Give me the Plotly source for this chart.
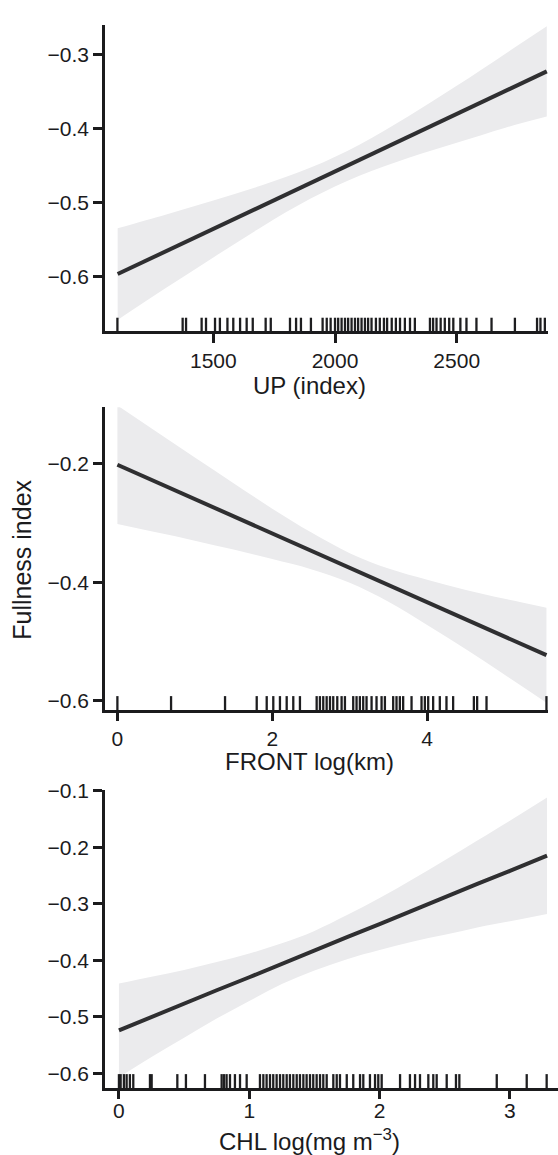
import plotly.graph_objects as go

W, H = 558, 1155
FONT = "Liberation Sans, Arial, Helvetica, sans-serif"
LINE_C = "#2f2f31"
BAND_C = "#ebebed"
AX_C = "#1b1b1d"

# ---------------- Panel 1: UP (index) ----------------
up_x = [1107, 1300, 1500, 1700, 1900, 2100, 2300, 2500, 2700, 2870]
up_fit = [-0.597, -0.567, -0.536, -0.505, -0.474, -0.443, -0.412, -0.381, -0.349, -0.323]
up_hi = [-0.535, -0.517, -0.4975, -0.477, -0.453, -0.422, -0.384, -0.3425, -0.299, -0.262]
up_lo = [-0.659, -0.617, -0.5745, -0.533, -0.495, -0.464, -0.440, -0.4195, -0.399, -0.384]
up_rug = [1106, 1374, 1388, 1452, 1470, 1507, 1527, 1558, 1582, 1610, 1637, 1662,
          1715, 1736, 1815, 1840, 1860, 1901, 1949, 1966, 1982, 2000, 2013, 2027,
          2041, 2054, 2068, 2082, 2095, 2109, 2123, 2136, 2150, 2168, 2184, 2201,
          2214, 2233, 2250, 2267, 2287, 2308, 2328, 2390, 2403, 2417, 2434, 2451,
          2469, 2486, 2515, 2540, 2581, 2643, 2739, 2830, 2844, 2862]
up_xticks = [1500, 2000, 2500]
up_yticks = [-0.6, -0.5, -0.4, -0.3]

# ---------------- Panel 2: FRONT log(km) ----------------
fr_x = [0, 0.5, 1, 1.5, 2, 2.5, 3, 3.5, 4, 4.5, 5, 5.54]
fr_fit = [-0.202, -0.231, -0.260, -0.289, -0.318, -0.347, -0.376, -0.405, -0.434, -0.463, -0.492, -0.523]
fr_hi = [-0.102, -0.146, -0.190, -0.233, -0.276, -0.316, -0.351, -0.377, -0.396, -0.413, -0.428, -0.443]
fr_lo = [-0.302, -0.316, -0.330, -0.345, -0.361, -0.378, -0.401, -0.433, -0.472, -0.513, -0.556, -0.603]
fr_rug = [0.0, 0.693, 1.390, 1.799, 1.928, 2.013, 2.099, 2.186, 2.271, 2.357, 2.573,
          2.615, 2.658, 2.702, 2.745, 2.787, 2.839, 2.895, 2.938, 3.045, 3.088, 3.131,
          3.174, 3.217, 3.282, 3.346, 3.411, 3.454, 3.561, 3.604, 3.647, 3.690, 3.798,
          3.927, 3.970, 4.013, 4.077, 4.163, 4.249, 4.335, 4.603, 4.645, 4.766, 5.540]
fr_xticks = [0, 2, 4]
fr_yticks = [-0.6, -0.4, -0.2]

# ---------------- Panel 3: CHL log(mg m-3) ----------------
ch_x = [0, 0.25, 0.5, 0.75, 1, 1.25, 1.5, 1.75, 2, 2.25, 2.5, 2.75, 3, 3.285]
ch_fit = [-0.524, -0.500, -0.477, -0.453, -0.430, -0.406, -0.383, -0.359, -0.336, -0.312,
          -0.289, -0.265, -0.242, -0.215]
ch_hi = [-0.441, -0.429, -0.417, -0.403, -0.388, -0.370, -0.348, -0.320, -0.290, -0.257,
         -0.223, -0.188, -0.153, -0.112]
ch_lo = [-0.607, -0.571, -0.537, -0.503, -0.472, -0.442, -0.418, -0.398, -0.382, -0.367,
         -0.355, -0.342, -0.331, -0.318]
ch_rug = [0.0, 0.013, 0.038, 0.059, 0.084, 0.110, 0.238, 0.251, 0.448, 0.514, 0.660,
          0.788, 0.806, 0.826, 0.852, 0.890, 0.929, 0.980, 1.082, 1.108, 1.133, 1.159,
          1.184, 1.210, 1.236, 1.261, 1.287, 1.312, 1.338, 1.364, 1.389, 1.415, 1.440,
          1.466, 1.491, 1.517, 1.543, 1.568, 1.594, 1.645, 1.671, 1.696, 1.748, 1.798,
          1.850, 1.875, 1.926, 1.965, 1.990, 2.016, 2.157, 2.233, 2.272, 2.310, 2.374,
          2.412, 2.438, 2.515, 2.586, 2.612, 2.899, 3.129, 3.282]
ch_xticks = [0, 1, 2, 3]
ch_yticks = [-0.6, -0.5, -0.4, -0.3, -0.2, -0.1]

x_labels = ["UP (index)", "FRONT log(km)", "CHL log(mg m<sup>−3</sup>)"]
y_label = "Fullness index"

# layout geometry (pixels)
panels = [
    dict(x=up_x, fit=up_fit, hi=up_hi, lo=up_lo, rug=up_rug, xt=up_xticks, yt=up_yticks,
         xr=[1055, 2875], yr=[-0.6745, -0.260], px=(105, 548), py=(14, 324),
         std=0, title_y=379),
    dict(x=fr_x, fit=fr_fit, hi=fr_hi, lo=fr_lo, rug=fr_rug, xt=fr_xticks, yt=fr_yticks,
         xr=[-0.16, 5.56], yr=[-0.615, -0.105], px=(105, 548), py=(400.7, 706.7),
         std=-1, title_y=759),
    dict(x=ch_x, fit=ch_fit, hi=ch_hi, lo=ch_lo, rug=ch_rug, xt=ch_xticks, yt=ch_yticks,
         xr=[-0.107, 3.369], yr=[-0.6254, -0.0985], px=(105, 558), py=(787.7, 1089),
         std=-7, title_y=1142),
]

fig = go.Figure()
layout = dict(
    width=W, height=H, margin=dict(l=0, r=0, t=0, b=0),
    paper_bgcolor="white", plot_bgcolor="white", showlegend=False,
    font=dict(family=FONT, color="#1b1b1d"),
)
annotations = []

for i, p in enumerate(panels, start=1):
    xa = "x" if i == 1 else f"x{i}"
    ya = "y" if i == 1 else f"y{i}"
    # confidence band
    fig.add_trace(go.Scatter(x=p["x"], y=p["lo"], mode="lines",
                             line=dict(width=0, color=BAND_C, shape="spline", smoothing=1.0),
                             xaxis=xa, yaxis=ya, hoverinfo="skip"))
    fig.add_trace(go.Scatter(x=p["x"], y=p["hi"], mode="lines",
                             line=dict(width=0, color=BAND_C, shape="spline", smoothing=1.0),
                             fill="tonexty", fillcolor=BAND_C, xaxis=xa, yaxis=ya, hoverinfo="skip"))
    # fitted line
    fig.add_trace(go.Scatter(x=p["x"], y=p["fit"], mode="lines", line=dict(width=4, color=LINE_C),
                             xaxis=xa, yaxis=ya))
    # rug
    ph = p["py"][1] - p["py"][0]
    per_px = (p["yr"][1] - p["yr"][0]) / ph
    rug_y = [p["yr"][0] + 6.0 * per_px] * len(p["rug"])
    fig.add_trace(go.Scatter(x=p["rug"], y=rug_y, mode="markers", cliponaxis=False,
                             marker=dict(symbol="line-ns", size=11,
                                         line=dict(width=2.3, color="#1e1e20")),
                             xaxis=xa, yaxis=ya))

    xkey = "xaxis" if i == 1 else f"xaxis{i}"
    ykey = "yaxis" if i == 1 else f"yaxis{i}"
    layout[xkey] = dict(
        domain=[p["px"][0] / W, p["px"][1] / W], range=p["xr"], anchor=ya,
        showgrid=False, zeroline=False, showline=True, linecolor=AX_C, linewidth=2.5,
        ticks="outside", ticklen=9, tickwidth=2.5, tickcolor=AX_C,
        tickvals=p["xt"], tickfont=dict(size=21, family=FONT, color="#1b1b1d"),
        ticklabelstandoff=p["std"],
    )
    layout[ykey] = dict(
        domain=[1 - p["py"][1] / H, 1 - p["py"][0] / H], range=p["yr"], anchor=xa,
        showgrid=False, zeroline=False, showline=True, linecolor=AX_C, linewidth=2.5,
        ticks="outside", ticklen=9, tickwidth=2.5, tickcolor=AX_C,
        tickvals=p["yt"], tickformat=".1f",
        tickfont=dict(size=21, family=FONT, color="#1b1b1d"),
    )
    annotations.append(dict(
        text=x_labels[i - 1], xref="paper", yref="paper", x=309 / W, y=1 - p["title_y"] / H,
        xanchor="center", yanchor="middle", showarrow=False,
        font=dict(size=24, family=FONT, color="#1b1b1d"),
    ))

annotations.append(dict(
    text=y_label, xref="paper", yref="paper", x=22 / W, y=1 - 555 / H,
    xanchor="center", yanchor="middle", showarrow=False, textangle=-90,
    font=dict(size=25, family=FONT, color="#1b1b1d"),
))
layout["annotations"] = annotations
fig.update_layout(**layout)

fig.write_html("out.html", config={"displayModeBar": False},
               post_script="document.body.style.margin='0';document.body.style.overflow='hidden';")
